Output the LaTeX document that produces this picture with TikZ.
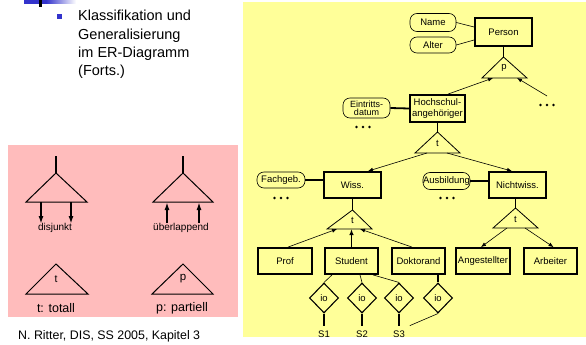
\documentclass[tikz,border=0pt]{standalone}
\usepackage{fontspec}
\setmainfont{Liberation Sans}
\usetikzlibrary{arrows.meta,shapes.geometric,calc}
\definecolor{panelpink}{RGB}{255,188,188}
\definecolor{panelyellow}{RGB}{255,255,153}
\definecolor{slideblue}{RGB}{51,51,204}

\tikzset{
  moredots/.pic={\fill (-6.5,0) circle (1.45pt) (0,0) circle (1.45pt) (6.5,0) circle (1.45pt);}
}

\begin{document}
\begin{tikzpicture}[x=1pt,y=-1pt,
  entity/.style={draw, line width=1.8pt, inner sep=0pt, minimum width=54pt,
    minimum height=26pt, align=center, font=\fontsize{9.5}{11.5}\selectfont},
  attr/.style={draw, line width=0.6pt, rounded corners=7pt, inner sep=0pt,
    align=center, font=\fontsize{9.5}{10}\selectfont},
  rel/.style={draw, diamond, line width=1.1pt, inner sep=0pt, minimum width=29pt,
    minimum height=30pt, font=\fontsize{9.5}{11}\selectfont},
  isa/.style={draw, line width=0.8pt, line join=miter},
  legendtri/.style={draw, line width=1pt, line join=miter},
  thinlink/.style={line width=0.6pt},
  thicklink/.style={line width=1.8pt},
  arr/.style={-{Latex[length=5pt,width=4pt]}, line width=0.6pt},
  thickarr/.style={-{Latex[length=6pt,width=4.5pt]}, line width=1.8pt},
  legendarr/.style={-{Latex[length=8pt,width=5pt]}, line width=2pt},
  lbl/.style={inner sep=0pt, font=\fontsize{9.5}{11}\selectfont},
  sname/.style={inner sep=0pt, outer sep=5pt, font=\fontsize{9.5}{11}\selectfont},
]
% page and panels
\fill[white] (0,0) rectangle (586,345);
\useasboundingbox (0,0) rectangle (586,345);
\fill[panelpink] (8,145) rectangle (238,317);
\fill[panelyellow] (243,2) rectangle (586,337);

% slide header decoration
\fill[slideblue] (24,0) rectangle (46,4);
\shade[left color=slideblue, right color=white] (46,0) rectangle (76,4);
\fill[black] (39,0) rectangle (42,7);
\fill[slideblue] (57,14) rectangle (62,19);
\node[anchor=north west, inner sep=0pt, align=left,
      font=\fontsize{14.5}{18.3}\selectfont] (title) at (78,10)
  {Klassifikation und\\Generalisierung\\im ER-Diagramm\\(Forts.)};

% footer
\node[anchor=base west, inner sep=0pt, font=\fontsize{12.4}{14}\selectfont]
  (footer) at (18,339.5) {N. Ritter, DIS, SS 2005, Kapitel 3};

% ---------- legend ----------
% disjoint
\coordinate (dja) at (56,173);
\coordinate (djl) at (26,202);
\coordinate (djr) at (87,202);
\coordinate (djtop) at (56,156);
\draw[thicklink, line width=2pt] (djtop) -- (dja);
\draw[legendtri] (dja) -- (djr) -- (djl) -- cycle;
\coordinate (dj1) at (41,202);
\coordinate (dj2) at (71,202);
\coordinate (dj1e) at (41,224);
\coordinate (dj2e) at (71,224);
\draw[legendarr] (dj1) -- (dj1e);
\draw[legendarr] (dj2) -- (dj2e);
\node[inner sep=0pt, font=\fontsize{10}{11}\selectfont] (disj) at (55,227.5) {disjunkt};

% overlapping
\coordinate (ova) at (183,173);
\coordinate (ovl) at (153,202);
\coordinate (ovr) at (213,202);
\coordinate (ovtop) at (183,156);
\draw[thicklink, line width=2pt] (ovtop) -- (ova);
\draw[legendtri] (ova) -- (ovr) -- (ovl) -- cycle;
\coordinate (ov1) at (167,202);
\coordinate (ov2) at (199,202);
\coordinate (ov1s) at (167,223);
\coordinate (ov2s) at (199,223);
\draw[legendarr] (ov1s) -- (ov1);
\draw[legendarr] (ov2s) -- (ov2);
\node[inner sep=0pt, font=\fontsize{10}{11}\selectfont] (ovlp) at (181,227.5) {überlappend};

% total / partial
\coordinate (tta) at (56,264);
\coordinate (ttl) at (26,294);
\coordinate (ttr) at (88,294);
\draw[legendtri] (tta) -- (ttr) -- (ttl) -- cycle;
\node[inner sep=0pt, font=\fontsize{10.5}{11}\selectfont] (ttl-label) at (56,279) {t};
\node[inner sep=0pt, font=\fontsize{12.5}{14}\selectfont] (totall) at (56,308.5) {t: totall};
\coordinate (ppa) at (183,264);
\coordinate (ppl) at (152,294);
\coordinate (ppr) at (213,294);
\draw[legendtri] (ppa) -- (ppr) -- (ppl) -- cycle;
\node[inner sep=0pt, font=\fontsize{11.5}{12}\selectfont] (ppl-label) at (183,279) {p};
\node[inner sep=0pt, font=\fontsize{12.5}{14}\selectfont] (partiell) at (182,308.5) {p: partiell};

% ---------- ER diagram ----------
% Person
\node[entity, minimum width=57pt, minimum height=28pt] (person) at (503.5,32) {Person};
\node[attr, minimum width=46pt, minimum height=18pt] (name) at (433,22.5) {Name};
\node[attr, minimum width=46pt, minimum height=16pt] (alter) at (433,45) {Alter};
\draw[thinlink] (name.east) -- ($(person.west)+(0,-5)$);
\draw[thinlink] (alter.east) -- ($(person.west)+(0,8)$);

\coordinate (pa) at (503.5,57);
\coordinate (pl) at (482,78);
\coordinate (pr) at (527,78);
\draw[thicklink] (person.south) -- (pa);
\draw[isa] (pa) -- (pr) -- (pl) -- cycle;
\node[lbl] (plab) at (504,68) {p};

% Hochschulangehoeriger
\node[entity, minimum width=55pt, minimum height=27pt] (hs) at (437.5,108.5) {Hochschul-\\angehöriger};
\node[attr, minimum width=47pt, minimum height=20pt, font=\fontsize{9}{8}\selectfont]
  (eint) at (366.5,108) {Eintritts-\\datum};
\draw[thicklink] (eint.east) -- (hs.west);
\pic at (363,127) {moredots};

\coordinate (pb1) at (493,78);
\coordinate (pb2) at (517,78);
\coordinate (more1) at (547,105);
\pic at (more1) {moredots};
\draw[arr] ($(hs.north)+(10.5,0)$) -- (pb1);
\draw[arr] ($(more1)+(0,-9)$) -- (pb2);

\coordinate (ha) at (437.5,132);
\coordinate (hl) at (415,153);
\coordinate (hr) at (460,153);
\draw[thicklink] (hs.south) -- (ha);
\draw[isa] (ha) -- (hr) -- (hl) -- cycle;
\node[lbl] (hlab) at (437.5,143.5) {t};

% Wiss. / Nichtwiss.
\node[entity, minimum width=57pt, minimum height=26pt] (wiss) at (352.5,185) {Wiss.};
\node[entity, minimum width=57pt, minimum height=26pt] (nicht) at (517.5,185) {Nichtwiss.};
\coordinate (hb1) at (427,153);
\coordinate (hb2) at (447,153);
\draw[arr] (hb1) -- ($(wiss.north)+(15.5,0)$);
\draw[arr] (hb2) -- ($(nicht.north)+(-5.5,0)$);

\node[attr, minimum width=48pt, minimum height=16pt] (fach) at (281,180) {Fachgeb.};
\draw[thicklink] (fach.east) -- (fach.east -| wiss.west);
\pic at (281,198) {moredots};
\node[attr, minimum width=47pt, minimum height=17pt] (ausb) at (446.5,181) {Ausbildung};
\draw[thicklink] (ausb.east) -- (ausb.east -| nicht.west);
\pic at (447,198) {moredots};

\coordinate (wa) at (352.5,210);
\coordinate (wl) at (327,229);
\coordinate (wr) at (372,229);
\draw[thicklink] (wiss.south) -- (wa);
\draw[isa] (wa) -- (wr) -- (wl) -- cycle;
\node[lbl] (wlab) at (352.5,220) {t};

\coordinate (na) at (515.5,208);
\coordinate (nl) at (493,228);
\coordinate (nr) at (538,228);
\draw[thicklink] (na |- nicht.south) -- (na);
\draw[isa] (na) -- (nr) -- (nl) -- cycle;
\node[lbl] (nlab) at (515.5,219) {t};

% leaf entities
\node[entity] (prof) at (285,261) {Prof};
\node[entity, minimum width=53pt] (student) at (351.5,261) {Student};
\node[entity, minimum width=53pt] (dokt) at (418.5,261) {Doktorand};
\node[entity] (angest) at (483,261) {Angestellter};
\node[entity, minimum width=53pt] (arbeiter) at (550.5,261) {Arbeiter};

\coordinate (wb1) at (337,229);
\coordinate (wb2) at (351.5,229);
\coordinate (wb3) at (360,229);
\draw[arr] ($(prof.north)+(3,0)$) -- (wb1);
\draw[thickarr] (student.north) -- (wb2);
\draw[arr] ($(dokt.north)+(-6.5,0)$) -- (wb3);

\coordinate (nb1) at (507,228);
\coordinate (nb2) at (525,228);
\draw[arr] (nb1) -- ($(angest.north)+(-2,0)$);
\draw[arr] (nb2) -- ($(arbeiter.north)+(3,0)$);

% relationships
\node[rel] (d1) at (324,298) {io};
\node[rel] (d2) at (362,298) {io};
\node[rel] (d3) at (399,298) {io};
\node[rel] (d4) at (438,298) {io};
\draw[thinlink] ($(student.south)+(-19.5,0)$) -- (d1.north);
\draw[thinlink] ($(student.south)+(8.5,0)$) -- (d2.north);
\draw[thinlink] ($(student.south)+(21.5,0)$) -- (d3.north);
\draw[thicklink] (d4.north |- dokt.south) -- (d4.north);

\node[sname] (s1) at (324,334) {S1};
\node[sname] (s2) at (362,334) {S2};
\node[sname] (s3) at (399,334) {S3};
\draw[thicklink] (d1.south) -- (s1.north);
\draw[thicklink] (d2.south) -- (s2.north);
\draw[thicklink] (d3.south) -- (s3.north);
\draw[thinlink] (d4.south) -- (s3.north east);
\end{tikzpicture}
\end{document}
